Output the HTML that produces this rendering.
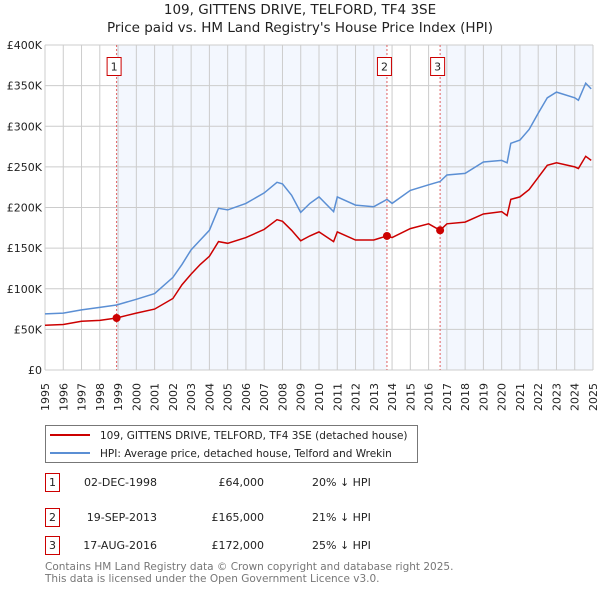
<!DOCTYPE html>
<html><head><meta charset="utf-8"><style>
body{margin:0;background:#fff;font-family:"Liberation Sans","DejaVu Sans",sans-serif;}
svg text{font-family:"DejaVu Sans","Liberation Sans",sans-serif;}
</style></head><body>
<svg id="chart" width="600" height="590" xmlns="http://www.w3.org/2000/svg">
<text x="300" y="14" font-size="13.5" text-anchor="middle" fill="#222">109, GITTENS DRIVE, TELFORD, TF4 3SE</text>
<text x="300" y="32" font-size="13.5" text-anchor="middle" fill="#222">Price paid vs. HM Land Registry's House Price Index (HPI)</text>
<g id="plot"></g>
<g>
<rect x="45.5" y="425.5" width="372" height="37" fill="#fff" stroke="#777"/>
<line x1="50" y1="435" x2="90" y2="435" stroke="#cc0000" stroke-width="2"/>
<text x="100" y="439" font-size="10.5" fill="#222">109, GITTENS DRIVE, TELFORD, TF4 3SE (detached house)</text>
<line x1="50" y1="453" x2="90" y2="453" stroke="#5b8fd4" stroke-width="2"/>
<text x="100" y="457" font-size="10.5" fill="#222">HPI: Average price, detached house, Telford and Wrekin</text>
</g>
<g font-size="11" fill="#222">
<rect x="45.5" y="473.5" width="14" height="18" fill="#fff" stroke="#cc0000"/><text x="52.5" y="486" text-anchor="middle">1</text>
<text x="157" y="486" text-anchor="end">02-DEC-1998</text><text x="264" y="486" text-anchor="end">£64,000</text><text x="312" y="486">20% ↓ HPI</text>
<rect x="45.5" y="508.5" width="14" height="18" fill="#fff" stroke="#cc0000"/><text x="52.5" y="521" text-anchor="middle">2</text>
<text x="157" y="521" text-anchor="end">19-SEP-2013</text><text x="264" y="521" text-anchor="end">£165,000</text><text x="312" y="521">21% ↓ HPI</text>
<rect x="45.5" y="536.5" width="14" height="18" fill="#fff" stroke="#cc0000"/><text x="52.5" y="549" text-anchor="middle">3</text>
<text x="157" y="549" text-anchor="end">17-AUG-2016</text><text x="264" y="549" text-anchor="end">£172,000</text><text x="312" y="549">25% ↓ HPI</text>
</g>
<text x="45" y="570" font-size="10.5" fill="#777">Contains HM Land Registry data © Crown copyright and database right 2025.</text>
<text x="45" y="582" font-size="10.5" fill="#777">This data is licensed under the Open Government Licence v3.0.</text>
</svg>
<script>
const hpiYears=[1995,1996,1997,1998,1998.92,2000,2001,2002,2002.5,2003,2003.5,2004,2004.5,2005,2006,2007,2007.7,2008,2008.5,2009,2009.5,2010,2010.8,2011,2012,2013,2013.72,2014,2015,2016,2016.63,2017,2018,2019,2020,2020.3,2020.5,2021,2021.5,2022,2022.5,2023,2024,2024.2,2024.6,2024.9];
const hpiValues=[69,70,74,77,80,87,94,114,130,148,160,172,199,197,205,218,231,229,215,194,205,213,195,213,203,201,210,205,221,228,232,240,242,256,258,255,279,283,296,316,335,342,335,332,353,346];
const priceValues=[55,56,60,61,64,70,75,88,105,118,130,140,158,156,163,173,185,183,172,159,165,170,158,170,160,160,165,163,174,180,172,180,182,192,195,190,210,213,222,237,252,255,250,248,263,258];
const saleYears=[1998.92,2013.72,2016.63];
const salePrices=[64,165,172];
const saleLabels=["1","2","3"];
const yTicks=[0,50,100,150,200,250,300,350,400];
const yTickLabels=["£0","£50K","£100K","£150K","£200K","£250K","£300K","£350K","£400K"];
const xTicks=[1995,1996,1997,1998,1999,2000,2001,2002,2003,2004,2005,2006,2007,2008,2009,2010,2011,2012,2013,2014,2015,2016,2017,2018,2019,2020,2021,2022,2023,2024,2025];

const L=45,R=593,T=45,B=370;
const xs=y=>L+(y-1995)/30*(R-L);
const ys=v=>B-v/400*(B-T);
const NS="http://www.w3.org/2000/svg";
const plot=document.getElementById('plot');
function mk(tag,attrs,parent){const e=document.createElementNS(NS,tag);for(const k in attrs)e.setAttribute(k,attrs[k]);(parent||plot).appendChild(e);return e;}
const s1=mk('rect',{x:xs(saleYears[0]),y:T,width:xs(saleYears[1])-xs(saleYears[0]),height:B-T,fill:'#eef3fd',opacity:0.7});


const s2=mk('rect',{x:xs(saleYears[2]),y:T,width:R-xs(saleYears[2]),height:B-T,fill:'#eef3fd',opacity:0.7});


xTicks.forEach(y=>{
 const g=mk('line',{x1:xs(y),x2:xs(y),y1:T,y2:B,stroke:'#ccc','stroke-width':1});
 
 
 const t=mk('text',{transform:`translate(${xs(y)+4},411) rotate(-90)`,'font-size':11,fill:'#222'});
 t.textContent=y;
 
 
});
yTicks.forEach((v,i)=>{
 const g=mk('line',{x1:L,x2:R,y1:ys(v),y2:ys(v),stroke:'#ccc','stroke-width':1});
 
 
 const t=mk('text',{x:L-3,y:ys(v)+4,'font-size':11,'text-anchor':'end',fill:'#222'});
 t.textContent=yTickLabels[i];
 
 
});
saleYears.forEach((y,i)=>{
 const l=mk('line',{x1:xs(y),x2:xs(y),y1:T,y2:B,stroke:'#e06060','stroke-width':1,'stroke-dasharray':'2,2'});
 
 
 const r=mk('rect',{x:xs(y)-9.5,y:57.5,width:14,height:18,fill:'#fff',stroke:'#cc0000'});
 
 
 const t=mk('text',{x:xs(y)-2.5,y:70.5,'font-size':11,'text-anchor':'middle',fill:'#222'});
 t.textContent=saleLabels[i];
 
 
});
const pts=(vals)=>hpiYears.map((y,i)=>xs(y).toFixed(1)+','+ys(vals[i]).toFixed(1)).join(' ');
const hl=mk('polyline',{points:pts(hpiValues),fill:'none',stroke:'#5b8fd4','stroke-width':1.5});


const pl=mk('polyline',{points:pts(priceValues),fill:'none',stroke:'#cc0000','stroke-width':1.5});


saleYears.forEach((y,i)=>{
 const c=mk('circle',{cx:xs(y),cy:ys(salePrices[i]),r:4,fill:'#cc0000'});
 
 
});
</script>
</body></html>
